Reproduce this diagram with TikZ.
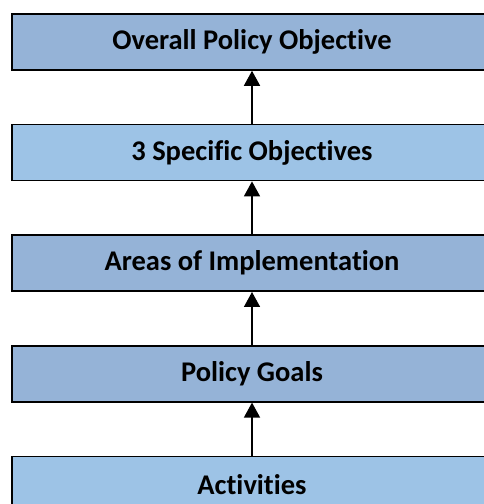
\documentclass[tikz,border=0pt]{standalone}
\usepackage{fontspec}
\setmainfont{Carlito}[Ligatures = NoCommon]
\usepackage{tikz}
\usetikzlibrary{arrows.meta}
\usetikzlibrary{positioning}
\definecolor{darkblue}{HTML}{95B3D7}
\definecolor{lightblue}{HTML}{9DC3E6}
\tikzset{level/.style = {draw, line width = 1.6pt, minimum width = 480pt, minimum height = 56pt,
    inner sep = 0, font = \fontsize{28.5}{32}\selectfont\bfseries}}
\tikzset{up/.style = {line width = 1.6pt, -{Triangle[width = 16pt, length = 15pt]}}}

\begin{document}
\begin{tikzpicture}[x=1pt, y=1pt, node distance = 53pt]
    \useasboundingbox (0, 0) rectangle (484, 504);
    \clip (0, 0) rectangle (484, 504);
    \node [level, fill = darkblue] (overall) at (252, 462) {Overall Policy Objective};
    \node [level, fill = lightblue, below = of overall] (specific) {3 Specific Objectives};
    \node [level, fill = darkblue, below = of specific] (areas) {Areas of Implementation};
    \node [level, fill = darkblue, below = of areas] (goals) {Policy Goals};
    \node [level, fill = lightblue, below = of goals] (activities) {Activities};
    \draw [up] (specific) -- (overall);
    \draw [up] (areas) -- (specific);
    \draw [up] (goals) -- (areas);
    \draw [up] (activities) -- (goals);
  \end{tikzpicture}
\end{document}
